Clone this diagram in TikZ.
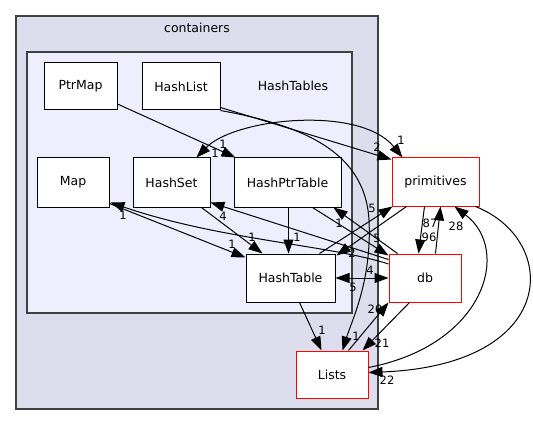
\documentclass[tikz,border=0pt]{standalone}
\usepackage{fontspec}
\setmainfont{DejaVu Sans}
\usepackage{xcolor}
\usetikzlibrary{arrows.meta,calc}

\definecolor{clusterouter}{HTML}{DDDDEE}
\definecolor{clusterinner}{HTML}{EEEEFF}
\definecolor{clusterline}{HTML}{404040}

\begin{document}
\begin{tikzpicture}[
    x=1pt, y=-1pt,
    dir/.style={draw=black, fill=white, line width=1pt, inner sep=0pt, minimum height=48pt, font=\fontsize{12.5}{14}\selectfont},
    extdir/.style={dir, draw=red},
    arr/.style={-{Triangle[length=14pt,width=10pt]}, line width=1pt},
    biarr/.style={{Triangle[length=14pt,width=10pt]}-{Triangle[length=14pt,width=10pt]}, line width=1pt},
    lbl/.style={inner sep=0pt, font=\fontsize{11.5}{13}\selectfont}
]
\useasboundingbox (0,0) rectangle (533,425);
% clusters
\draw[clusterline, fill=clusterouter, line width=1.2pt] (16,16) rectangle (378,409);
\node[font=\fontsize{12.5}{14}\selectfont] (containerslbl) at (197,28) {containers};
\draw[clusterline, fill=clusterinner, line width=1.2pt] (27,52) rectangle (352,313);
\node[font=\fontsize{12.5}{14}\selectfont] (hashtableslbl) at (293,86) {HashTables};

% directories
\node[dir, minimum width=73pt, minimum height=47pt] (ptrmap) at (80.5,86.5) {PtrMap};
\node[dir, minimum width=78pt, minimum height=47pt] (hashlist) at (181,86.5) {HashList};
\node[dir, minimum width=72pt, minimum height=49pt] (map) at (73,182.5) {Map};
\node[dir, minimum width=77pt, minimum height=49pt] (hashset) at (171.5,182.5) {HashSet};
\node[dir, minimum width=107pt, minimum height=49pt] (hashptrtable) at (287.5,182.5) {HashPtrTable};
\node[dir, minimum width=89pt] (hashtable) at (290.5,278) {HashTable};
\node[extdir, minimum width=87pt] (primitives) at (435.5,182) {primitives};
\node[extdir, minimum width=72pt] (db) at (425,278) {db};
\node[extdir, minimum width=72pt, minimum height=47pt] (lists) at (332,374.5) {Lists};

% dependencies
\draw[arr] ($(ptrmap.east)+(0,17.5)$) -- ($(hashptrtable.north west)+(2,0)$)
    node[lbl] at (223,144) {1};
\draw[biarr] ($(hashset.north west)+(64,0)$) .. controls (235,118) and (360,105) .. ($(primitives.north west)+(11,0)$)
    node[lbl] at (215,153) {1} node[lbl] at (401,140) {1};
\draw[arr] ($(hashlist.south east)+(0,-3)$) -- ($(primitives.north west)+(0,2)$)
    node[lbl] at (377,147) {2};
\draw[arr] (hashlist.south east) .. controls (300,125) and (365,150) .. (369,220)
    .. controls (372,280) and (352,320) .. ($(lists.north west)+(47,0)$)
    node[lbl] at (356,336) {1};
\draw[arr] ($(hashset.south west)+(69,0)$) -- ($(hashtable.north west)+(17,0)$)
    node[lbl] at (252,237) {1};
\draw[arr] ($(map.south east)+(0,-4)$) -- ($(hashtable.north west)+(0,4)$)
    node[lbl] at (232,244) {1};
\draw[arr] ($(db.west)+(0,-14)$) .. controls (330,245) and (220,240) .. ($(map.south east)+(1,-5)$)
    node[lbl] at (123,215) {1};
\draw[arr] ($(db.north west)+(0,6)$) -- ($(hashset.south east)+(0,-5)$)
    node[lbl] at (223,216) {4};
\draw[arr] ($(hashptrtable.south west)+(55,0)$) -- ($(hashtable.north west)+(43,0)$)
    node[lbl] at (297,237) {1};
\draw[arr] ($(hashptrtable.south west)+(79,0)$) -- ($(db.north west)+(0,2)$)
    node[lbl] at (377,238) {5};
\draw[arr] ($(db.north west)+(9,0)$) -- ($(hashptrtable.south east)+(-8,0)$)
    node[lbl] at (339,223) {1};
\draw[arr] ($(hashtable.north west)+(74,0)$) -- ($(primitives.south west)+(1,0)$)
    node[lbl] at (372,208) {5};
\draw[arr] ($(primitives.south west)+(15,0)$) -- ($(hashtable.north east)+(1,2)$)
    node[lbl] at (352,253) {2};
\draw[biarr] (hashtable.east) -- (db.west)
    node[lbl] at (370,270) {4} node[lbl] at (353,287) {5};
\draw[arr] ($(primitives.south west)+(33,0)$) -- ($(db.north west)+(30,0)$)
    node[lbl] at (429,237) {96};
\draw[arr] ($(db.north west)+(47,0)$) -- ($(primitives.south west)+(49,0)$)
    node[lbl] at (430,223) {87};
\draw[arr] ($(db.south west)+(21,0)$) -- ($(lists.north east)+(-6,0)$)
    node[lbl] at (382,343) {21};
\draw[arr] ($(lists.north west)+(53,0)$) -- (db.south west)
    node[lbl] at (375,309) {20};
\draw[arr] ($(hashtable.south west)+(54,0)$) -- ($(lists.north west)+(26,0)$)
    node[lbl] at (322,330) {1};
\draw[arr] ($(lists.north east)+(0,17)$) .. controls (485,345) and (512,250) .. ($(primitives.south west)+(63,0)$)
    node[lbl] at (456,226) {28};
\draw[arr] ($(primitives.south east)+(-4,0)$) .. controls (560,240) and (560,365) .. ($(lists.north east)+(0,22)$)
    node[lbl] at (387,380) {22};
\end{tikzpicture}
\end{document}
